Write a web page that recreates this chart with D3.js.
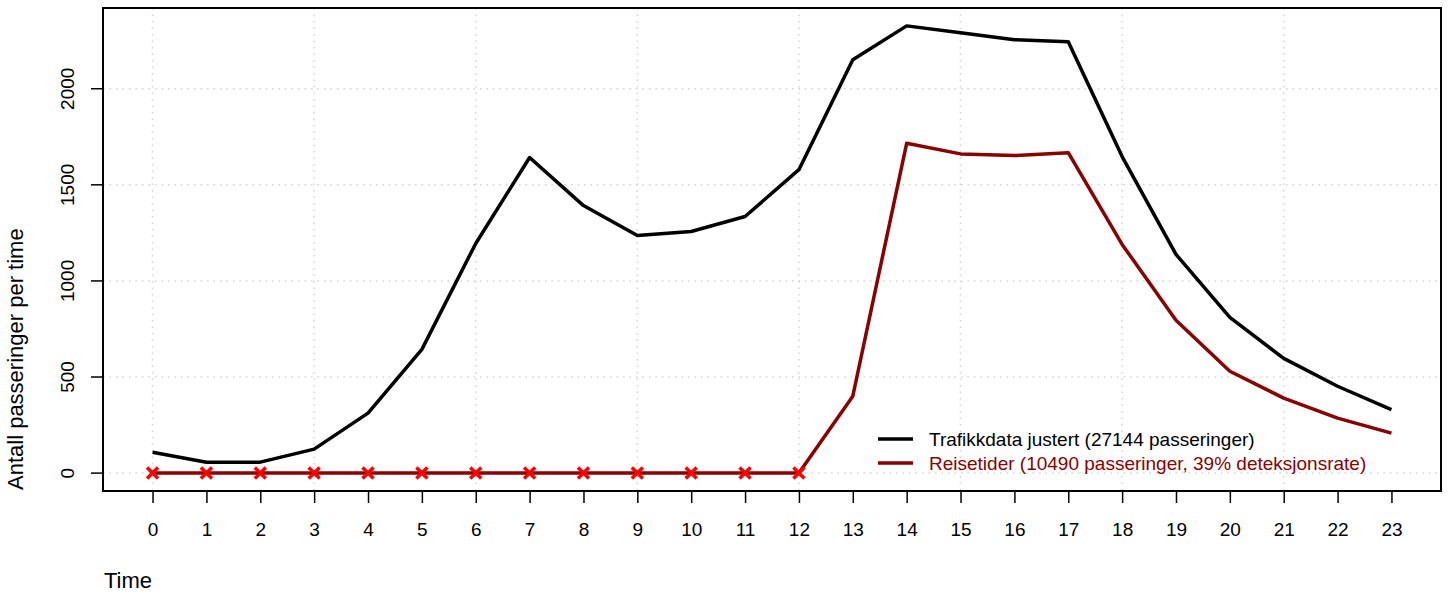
<!DOCTYPE html>
<html>
<head>
<meta charset="utf-8">
<script src="https://cdn.jsdelivr.net/npm/d3@7"></script>
<style>
  body { margin: 0; background: #fff; }
  text { font-family: "Liberation Sans", Arial, sans-serif; }
</style>
</head>
<body>
<script>
// hours of the day
var hours = d3.range(0, 24);

// adjusted traffic counts per hour
var trafikk = [109, 57, 57, 125, 312, 644, 1195, 1642, 1392, 1236, 1257, 1335,
               1579, 2151, 2327, 2291, 2255, 2244, 1647, 1138, 810, 597, 452, 330];

// travel time passages per hour
var reise = [0, 0, 0, 0, 0, 0, 0, 0, 0, 0, 0, 0,
             0, 400, 1716, 1661, 1652, 1667, 1190, 795, 530, 390, 286, 208];

var yTicks = [0, 500, 1000, 1500, 2000];
var gridX = [0, 3, 6, 9, 12, 15, 18, 21, 24];

var legendLabels = ["Trafikkdata justert (27144 passeringer)",
                    "Reisetider (10490 passeringer, 39% deteksjonsrate)"];

var width = 1449, height = 595;
var box = {left: 103, right: 1441, top: 8, bottom: 491};
var fs = 19, titleFs = 22;

var svg = d3.select("body").append("svg")
    .attr("width", width)
    .attr("height", height);

// R style: 4% padding on each side
var x = d3.scaleLinear()
    .domain([0 - 23 * 0.04, 23 + 23 * 0.04])
    .range([box.left, box.right]);

var ymax = d3.max(trafikk);
var y = d3.scaleLinear()
    .domain([0 - ymax * 0.04, ymax * 1.04])
    .range([box.bottom, box.top]);

// grid
var grid = svg.append("g").attr("class", "grid");
grid.selectAll(".gx")
    .data(gridX.filter(function(d){ return x(d) < box.right; }))
    .enter().append("line")
    .attr("x1", function(d){ return x(d); })
    .attr("x2", function(d){ return x(d); })
    .attr("y1", box.top)
    .attr("y2", box.bottom)
    .attr("stroke", "#d3d3d3")
    .attr("stroke-width", 1.5)
    .attr("stroke-dasharray", "1.5,5");
grid.selectAll(".gy")
    .data(yTicks)
    .enter().append("line")
    .attr("x1", box.left)
    .attr("x2", box.right)
    .attr("y1", function(d){ return y(d); })
    .attr("y2", function(d){ return y(d); })
    .attr("stroke", "#d3d3d3")
    .attr("stroke-width", 1.5)
    .attr("stroke-dasharray", "1.5,5");

var line = d3.line()
    .x(function(d, i){ return x(hours[i]); })
    .y(function(d){ return y(d); });

svg.append("path")
    .datum(trafikk)
    .attr("d", line)
    .attr("fill", "none")
    .attr("stroke", "#000")
    .attr("stroke-width", 3.5)
    .attr("stroke-linejoin", "round");

svg.append("path")
    .datum(reise)
    .attr("d", line)
    .attr("fill", "none")
    .attr("stroke", "#8b0000")
    .attr("stroke-width", 3.5)
    .attr("stroke-linejoin", "round");

// red crosses where no travel time data
var zeros = hours.filter(function(h){ return reise[h] === 0; });
var s = 5.5;
svg.selectAll(".cross")
    .data(zeros)
    .enter().append("path")
    .attr("d", function(h){
        var cx = x(h), cy = y(reise[h]);
        return "M" + (cx - s) + "," + (cy - s) + "L" + (cx + s) + "," + (cy + s) +
               "M" + (cx - s) + "," + (cy + s) + "L" + (cx + s) + "," + (cy - s);
    })
    .attr("stroke", "#ff0000")
    .attr("stroke-width", 3.5);

// axes
var xAxis = d3.axisBottom(x).tickValues(hours).tickSize(12).tickPadding(20)
    .tickFormat(d3.format("d"));
var gx = svg.append("g")
    .attr("transform", "translate(0," + box.bottom + ")")
    .call(xAxis);
gx.select(".domain").remove();
gx.selectAll("line").attr("stroke-width", 1.5);
gx.selectAll("text").attr("font-size", fs).attr("fill", "#000");

var yAxis = d3.axisLeft(y).tickValues(yTicks).tickSize(12).tickFormat(d3.format("d"));
var gy = svg.append("g")
    .attr("transform", "translate(" + box.left + ",0)")
    .call(yAxis);
gy.select(".domain").remove();
gy.selectAll("line").attr("stroke-width", 1.5);
gy.selectAll("text")
    .attr("font-size", fs)
    .attr("fill", "#000")
    .attr("text-anchor", "middle")
    .attr("x", null)
    .attr("transform", function(d){ return "translate(-36," + y(d) + ") rotate(-90)"; })
    .attr("y", 0)
    .attr("dy", "0.35em");
gy.selectAll(".tick").attr("transform", null);
gy.selectAll(".tick line")
    .attr("y1", function(d){ return y(d); })
    .attr("y2", function(d){ return y(d); });

// box
svg.append("rect")
    .attr("x", box.left)
    .attr("y", box.top)
    .attr("width", box.right - box.left)
    .attr("height", box.bottom - box.top)
    .attr("fill", "none")
    .attr("stroke", "#000")
    .attr("stroke-width", 2);

// axis titles, left/bottom aligned like mtext(adj = 0)
svg.append("text")
    .attr("x", box.left + 1)
    .attr("y", 588)
    .attr("font-size", titleFs)
    .text("Time");

svg.append("text")
    .attr("transform", "translate(23," + (box.bottom - 1) + ") rotate(-90)")
    .attr("text-anchor", "start")
    .attr("font-size", titleFs)
    .text("Antall passeringer per time");

// legend
var legendColors = ["#000", "#8b0000"];
var lg = svg.append("g");
legendLabels.forEach(function(lab, i){
    var ly = 439 + i * 24;
    lg.append("line")
        .attr("x1", 878).attr("x2", 913)
        .attr("y1", ly).attr("y2", ly)
        .attr("stroke", legendColors[i])
        .attr("stroke-width", 3.5);
    lg.append("text")
        .attr("x", 929)
        .attr("y", ly)
        .attr("dy", "0.35em")
        .attr("font-size", fs)
        .attr("fill", legendColors[i])
        .text(lab);
});
</script>
</body>
</html>
